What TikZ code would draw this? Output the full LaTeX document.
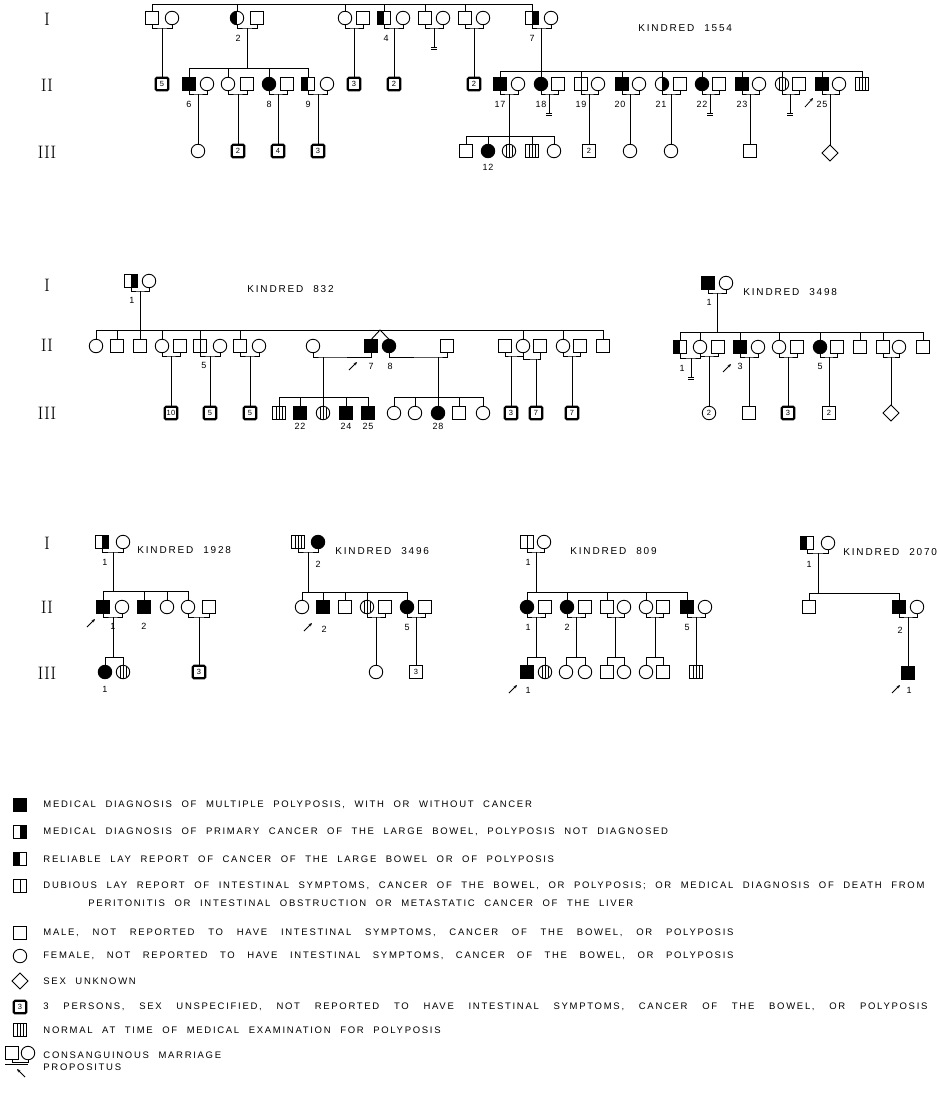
\documentclass[tikz,border=0pt]{standalone}
\usepackage{fontspec}
\usetikzlibrary{shapes.geometric,arrows.meta}
\newfontfamily\ltf[LetterSpace=18,WordSpace=2.2]{Liberation Sans}
\newfontfamily\numf[LetterSpace=6]{Liberation Sans}
\newcommand\mU[3]{\draw (#1.south) |- (#3) -| (#2.south);}
\newcommand\noff[3]{\draw (#1) -- ++(0,#3) coordinate (#2); \draw ([xshift=-3pt]#2) -- ([xshift=3pt]#2); \draw ([xshift=-3pt,yshift=-2.5pt]#2) -- ([xshift=3pt,yshift=-2.5pt]#2);}
\begin{document}
\begin{tikzpicture}[x=1pt,y=-1pt,line width=0.9pt,
  sym/.style={draw,line width=0.9pt,inner sep=0pt,outer sep=0pt},
  sq/.style={sym,rectangle,minimum size=12.5pt},
  ci/.style={sym,circle,minimum size=13.5pt},
  dm/.style={sym,diamond,minimum size=16pt},
  aff/.style={fill=black},
  lh/.style={path picture={\fill[black] (path picture bounding box.south west) rectangle (path picture bounding box.north);}},
  rh/.style={path picture={\fill[black] (path picture bounding box.south) rectangle (path picture bounding box.north east);}},
  dub/.style={path picture={\draw[line width=0.9pt] (path picture bounding box.south) -- (path picture bounding box.north);}},
  stri/.style={path picture={\foreach \s in {-3,0,3}{\draw[line width=0.7pt] ([xshift=\s pt]path picture bounding box.south) -- ([xshift=\s pt]path picture bounding box.north);}}},
  grp/.style={sq,line width=2.2pt,rounded corners=1.3pt,font=\numf\fontsize{7.5}{7.5}\selectfont},
  nsq/.style={sq,font=\numf\fontsize{7.5}{7.5}\selectfont},
  nci/.style={ci,font=\numf\fontsize{7.5}{7.5}\selectfont},
  lab/.style={font=\numf\fontsize{9}{9}\selectfont,inner sep=0pt},
  gen/.style={font=\fontsize{18}{18}\selectfont,inner sep=0pt},
  kin/.style={font=\ltf\fontsize{10}{10}\selectfont,anchor=west,inner sep=0pt},
  leg/.style={font=\ltf\fontsize{9.5}{9.5}\selectfont,anchor=west,inner sep=0pt},
  prop/.style={-{Stealth[length=3.5pt,width=3pt]},line width=0.8pt}]
\useasboundingbox (0,0) rectangle (937,1098);
\fill[white] (0,0) rectangle (937,1098);

%%%%%%%%%%%%%%%% KINDRED 1554
\node[gen] (ga1) at (47,19) {I};
\node[gen] (ga2) at (47,85) {II};
\node[gen] (ga3) at (47,152) {III};
\node[kin] (kn1) at (638,28) {KINDRED 1554};
\coordinate (t0) at (152,4); \coordinate (t1) at (532,4);
\draw (t0) -- (t1);
\node[sq] (a1) at (152,18) {}; \node[ci] (a2) at (172,18) {};
\node[ci,lh] (b1) at (237,18) {}; \node[sq] (b2) at (257,18) {};
\node[ci] (c1) at (345,18) {}; \node[sq] (c2) at (363,18) {};
\node[sq,lh] (d1) at (384,18) {}; \node[ci] (d2) at (403,18) {};
\node[sq] (e1) at (425,18) {}; \node[ci] (e2) at (443,18) {};
\node[sq] (f1) at (465,18) {}; \node[ci] (f2) at (483,18) {};
\node[sq,rh] (g1) at (532,18) {}; \node[ci] (g2) at (551,18) {};
\foreach \n in {a1,b1,c1,d1,e1,f1,g1} \draw (\n.north) -- (\n.north |- t0);
\coordinate (ma) at (162,28); \mU{a1}{a2}{ma}
\coordinate (mb) at (247,28); \mU{b1}{b2}{mb}
\coordinate (mc) at (354,28); \mU{c1}{c2}{mc}
\coordinate (md) at (394,28); \mU{d1}{d2}{md}
\coordinate (me) at (434,28); \mU{e1}{e2}{me}
\coordinate (mf) at (474,28); \mU{f1}{f2}{mf}
\coordinate (mg) at (541,28); \mU{g1}{g2}{mg}
\node[lab] (lb2) at (238,38) {2};
\node[lab] (ld4) at (386,38) {4};
\node[lab] (lg7) at (532,38) {7};
\node[grp] (a3) at (162,84) {5}; \draw (ma) -- (a3.north);
\node[grp] (c3) at (354,84) {3}; \draw (mc) -- (c3.north);
\node[grp] (d3) at (394,84) {2}; \draw (md) -- (d3.north);
\noff{me}{ne}{19}
\node[grp] (f3) at (474,84) {2}; \draw (mf) -- (f3.north);
% family of 2
\coordinate (sb0) at (189,68); \coordinate (sb1) at (308,68);
\draw (sb0) -- (sb1); \draw (mb) -- (mb |- sb0);
\node[sq,aff] (h1) at (189,84) {}; \node[ci] (h2) at (207,84) {};
\node[ci] (i1) at (228,84) {}; \node[sq] (i2) at (247,84) {};
\node[ci,aff] (j1) at (269,84) {}; \node[sq] (j2) at (287,84) {};
\node[sq,lh] (k1) at (308,84) {}; \node[ci] (k2) at (327,84) {};
\foreach \n in {h1,i1,j1,k1} \draw (\n.north) -- (\n.north |- sb0);
\coordinate (mh) at (198,94); \mU{h1}{h2}{mh}
\coordinate (mi) at (238,94); \mU{i1}{i2}{mi}
\coordinate (mj) at (278,94); \mU{j1}{j2}{mj}
\coordinate (mk) at (318,94); \mU{k1}{k2}{mk}
\node[lab] (lh6) at (189,104) {6};
\node[lab] (lj8) at (269,104) {8};
\node[lab] (lk9) at (308,104) {9};
\node[ci] (h3) at (198,151) {}; \draw (mh) -- (h3.north);
\node[grp] (i3) at (238,151) {2}; \draw (mi) -- (i3.north);
\node[grp] (j3) at (278,151) {4}; \draw (mj) -- (j3.north);
\node[grp] (k3) at (318,151) {3}; \draw (mk) -- (k3.north);
% family of 7
\coordinate (sg0) at (500,71); \coordinate (sg1) at (862,71);
\draw (sg0) -- (sg1); \draw (mg) -- (mg |- sg0);
\node[sq,aff] (n17) at (500,84) {}; \node[ci] (n17s) at (518,84) {};
\node[ci,aff] (n18) at (541,84) {}; \node[sq] (n18s) at (558,84) {};
\node[sq,dub] (n19) at (581,84) {}; \node[ci] (n19s) at (598,84) {};
\node[sq,aff] (n20) at (622,84) {}; \node[ci] (n20s) at (639,84) {};
\node[ci,rh] (n21) at (662,84) {}; \node[sq] (n21s) at (680,84) {};
\node[ci,aff] (n22) at (702,84) {}; \node[sq] (n22s) at (719,84) {};
\node[sq,aff] (n23) at (742,84) {}; \node[ci] (n23s) at (759,84) {};
\node[ci,stri] (n24) at (782,84) {}; \node[sq] (n24s) at (799,84) {};
\node[sq,aff] (n25) at (822,84) {}; \node[ci] (n25s) at (839,84) {};
\node[sq,stri] (n26) at (862,84) {};
\foreach \n in {n17,n18,n19,n20,n21,n22,n23,n24,n25,n26} \draw (\n.north) -- (\n.north |- sg0);
\coordinate (m17) at (509,94); \mU{n17}{n17s}{m17}
\coordinate (m18) at (549,94); \mU{n18}{n18s}{m18}
\coordinate (m19) at (589,94); \mU{n19}{n19s}{m19}
\coordinate (m20) at (630,94); \mU{n20}{n20s}{m20}
\coordinate (m21) at (671,94); \mU{n21}{n21s}{m21}
\coordinate (m22) at (710,94); \mU{n22}{n22s}{m22}
\coordinate (m23) at (750,94); \mU{n23}{n23s}{m23}
\coordinate (m24) at (790,94); \mU{n24}{n24s}{m24}
\coordinate (m25) at (830,94); \mU{n25}{n25s}{m25}
\node[lab] (l17) at (500,104) {17};
\node[lab] (l18) at (541,104) {18};
\node[lab] (l19) at (581,104) {19};
\node[lab] (l20) at (620,104) {20};
\node[lab] (l21) at (661,104) {21};
\node[lab] (l22) at (702,104) {22};
\node[lab] (l23) at (742,104) {23};
\node[lab] (l25) at (822,104) {25};
\draw[prop] (805,107) -- (813,98);
\coordinate (so0) at (466,136); \coordinate (so1) at (554,136);
\draw (so0) -- (so1); \draw (m17) -- (m17 |- so0);
\node[sq] (o1) at (466,151) {};
\node[ci,aff] (o2) at (488,151) {};
\node[ci,stri] (o3) at (509,151) {};
\node[sq,stri] (o4) at (532,151) {};
\node[ci] (o5) at (554,151) {};
\foreach \n in {o1,o2,o3,o4,o5} \draw (\n.north) -- (\n.north |- so0);
\node[lab] (l12) at (488,167) {12};
\noff{m18}{n18e}{19}
\node[nsq] (p19) at (589,151) {2}; \draw (m19) -- (p19.north);
\node[ci] (p20) at (630,151) {}; \draw (m20) -- (p20.north);
\node[ci] (p21) at (671,151) {}; \draw (m21) -- (p21.north);
\noff{m22}{n22e}{19}
\node[sq] (p23) at (750,151) {}; \draw (m23) -- (p23.north);
\noff{m24}{n24e}{19}
\node[dm] (p25) at (830,153) {}; \draw (m25) -- (p25.north);

%%%%%%%%%%%%%%%% KINDRED 832
\node[gen] (gb1) at (47,285) {I};
\node[gen] (gb2) at (47,345) {II};
\node[gen] (gb3) at (47,413) {III};
\node[kin] (kn2) at (247,289) {KINDRED 832};
\node[sq,rh] (P1) at (131,281) {}; \node[ci] (P2) at (149,281) {};
\coordinate (mP) at (140,291); \mU{P1}{P2}{mP}
\node[lab] (lP1) at (132,300) {1};
\coordinate (sP0) at (96,330); \coordinate (sP1) at (603,330);
\draw (sP0) -- (sP1); \draw (mP) -- (mP |- sP0);
\node[ci] (q1) at (96,346) {};
\node[sq] (q2) at (117,346) {};
\node[sq] (q3) at (140,346) {};
\node[ci] (q4) at (162,346) {}; \node[sq] (q4s) at (180,346) {};
\node[sq,dub] (q5) at (200,346) {}; \node[ci] (q5s) at (220,346) {};
\node[sq] (q6) at (240,346) {}; \node[ci] (q6s) at (259,346) {};
\node[ci] (q7s) at (313,346) {};
\node[sq,aff] (q7) at (371,346) {};
\node[ci,aff] (q8) at (389,346) {};
\node[sq] (q8s) at (447,346) {};
\node[sq] (q9s) at (505,346) {};
\node[ci] (q10) at (523,346) {};
\node[sq] (q11s) at (540,346) {};
\node[ci] (q12) at (563,346) {}; \node[sq] (q13s) at (580,346) {};
\node[sq] (q14) at (603,346) {};
\foreach \n in {q1,q2,q3,q4,q5,q6,q10,q12,q14} \draw (\n.north) -- (\n.north |- sP0);
\coordinate (tw) at (380,330); \draw (q7.north) -- (tw) -- (q8.north);
\coordinate (m4) at (171,356); \mU{q4}{q4s}{m4}
\coordinate (m5) at (210,356); \mU{q5}{q5s}{m5}
\coordinate (m6) at (250,356); \mU{q6}{q6s}{m6}
\coordinate (m7) at (323,357); \mU{q7s}{q7}{m7}
\coordinate (m8) at (438,357); \mU{q8}{q8s}{m8}
\coordinate (m9) at (511,356); \mU{q9s}{q10}{m9}
\coordinate (m10) at (536,359); \mU{q10}{q11s}{m10}
\coordinate (m12) at (572,356); \mU{q12}{q13s}{m12}
\node[lab] (lq5) at (204,365) {5};
\node[lab] (lq7) at (371,366) {7};
\node[lab] (lq8) at (390,366) {8};
\draw[prop] (349,370) -- (357,362);
\node[grp] (r4) at (171,413) {10}; \draw (m4) -- (r4.north);
\node[grp] (r5) at (210,413) {5}; \draw (m5) -- (r5.north);
\node[grp] (r6) at (250,413) {5}; \draw (m6) -- (r6.north);
\coordinate (sr0) at (279,397); \coordinate (sr1) at (368,397);
\draw (sr0) -- (sr1); \draw (m7) -- (m7 |- sr0);
\node[sq,stri] (s1) at (279,413) {};
\node[sq,aff] (s2) at (300,413) {};
\node[ci,stri] (s3) at (323,413) {};
\node[sq,aff] (s4) at (346,413) {};
\node[sq,aff] (s5) at (368,413) {};
\foreach \n in {s1,s2,s3,s4,s5} \draw (\n.north) -- (\n.north |- sr0);
\node[lab] (l22b) at (300,426) {22};
\node[lab] (l24b) at (346,426) {24};
\node[lab] (l25b) at (368,426) {25};
\coordinate (su0) at (394,397); \coordinate (su1) at (483,397);
\draw (su0) -- (su1); \draw (m8) -- (m8 |- su0);
\node[ci] (u1) at (394,413) {};
\node[ci] (u2) at (415,413) {};
\node[ci,aff] (u3) at (438,413) {};
\node[sq] (u4) at (459,413) {};
\node[ci] (u5) at (483,413) {};
\foreach \n in {u1,u2,u3,u4,u5} \draw (\n.north) -- (\n.north |- su0);
\node[lab] (l28) at (438,426) {28};
\node[grp] (r9) at (511,413) {3}; \draw (m9) -- (r9.north);
\node[grp] (r10) at (536,413) {7}; \draw (m10) -- (r10.north);
\node[grp] (r12) at (572,413) {7}; \draw (m12) -- (r12.north);

%%%%%%%%%%%%%%%% KINDRED 3498
\node[kin] (kn3) at (743,292) {KINDRED 3498};
\node[sq,aff] (T1) at (708,283) {}; \node[ci] (T2) at (726,283) {};
\coordinate (mT) at (717,293); \mU{T1}{T2}{mT}
\node[lab] (lT1) at (709,302) {1};
\coordinate (sT0) at (680,332); \coordinate (sT1) at (923,332);
\draw (sT0) -- (sT1); \draw (mT) -- (mT |- sT0);
\node[sq,lh] (U1) at (680,347) {};
\node[ci] (U2) at (700,347) {};
\node[sq] (U3) at (718,347) {};
\node[sq,aff] (U4) at (740,347) {}; \node[ci] (U5) at (758,347) {};
\node[ci] (U6) at (779,347) {}; \node[sq] (U7) at (797,347) {};
\node[ci,aff] (U8) at (820,347) {}; \node[sq] (U9) at (837,347) {};
\node[sq] (U10) at (860,347) {};
\node[sq] (U11) at (883,347) {}; \node[ci] (U12) at (899,347) {};
\node[sq] (U13) at (923,347) {};
\foreach \n in {U1,U2,U4,U6,U8,U10,U11,U13} \draw (\n.north) -- (\n.north |- sT0);
\coordinate (mU1) at (691,358); \mU{U1}{U2}{mU1}
\coordinate (mU2) at (709,356); \mU{U2}{U3}{mU2}
\coordinate (mU4) at (749,357); \mU{U4}{U5}{mU4}
\coordinate (mU6) at (788,357); \mU{U6}{U7}{mU6}
\coordinate (mU8) at (829,357); \mU{U8}{U9}{mU8}
\coordinate (mU11) at (891,357); \mU{U11}{U12}{mU11}
\noff{mU1}{nU1}{19}
\node[lab] (lU1) at (682,368) {1};
\node[lab] (lU4) at (740,366) {3};
\node[lab] (lU8) at (820,366) {5};
\draw[prop] (723,372) -- (731,364);
\node[nci] (V2) at (709,413) {2}; \draw (mU2) -- (V2.north);
\node[sq] (V4) at (749,413) {}; \draw (mU4) -- (V4.north);
\node[grp] (V6) at (788,413) {3}; \draw (mU6) -- (V6.north);
\node[nsq] (V8) at (829,413) {2}; \draw (mU8) -- (V8.north);
\node[dm] (V11) at (891,413) {}; \draw (mU11) -- (V11.north);

%%%%%%%%%%%%%%%% KINDRED 1928
\node[gen] (gc1) at (47,543) {I};
\node[gen] (gc2) at (47,607) {II};
\node[gen] (gc3) at (47,673) {III};
\node[kin] (kn4) at (137,550) {KINDRED 1928};
\node[sq,rh] (v1) at (102,542) {}; \node[ci] (v2) at (123,542) {};
\coordinate (mv) at (113,552); \mU{v1}{v2}{mv}
\node[lab] (lv1) at (105,562) {1};
\coordinate (sv0) at (103,591); \coordinate (sv1) at (188,591);
\draw (sv0) -- (sv1); \draw (mv) -- (mv |- sv0);
\node[sq,aff] (w1) at (103,607) {}; \node[ci] (w2) at (122,607) {};
\node[sq,aff] (w3) at (144,607) {};
\node[ci] (w4) at (167,607) {};
\node[ci] (w5) at (188,607) {}; \node[sq] (w6) at (209,607) {};
\foreach \n in {w1,w3,w4,w5} \draw (\n.north) -- (\n.north |- sv0);
\coordinate (mw1) at (113,617); \mU{w1}{w2}{mw1}
\coordinate (mw5) at (199,617); \mU{w5}{w6}{mw5}
\node[lab] (lw1) at (113,626) {1};
\node[lab] (lw3) at (144,626) {2};
\draw[prop] (87,627) -- (95,619);
\coordinate (sw0) at (105,657); \coordinate (sw1) at (123,657);
\draw (sw0) -- (sw1); \draw (mw1) -- (mw1 |- sw0);
\node[ci,aff] (x1) at (105,672) {}; \node[ci,stri] (x2) at (123,672) {};
\foreach \n in {x1,x2} \draw (\n.north) -- (\n.north |- sw0);
\node[lab] (lx1) at (105,689) {1};
\node[grp] (x5) at (199,672) {3}; \draw (mw5) -- (x5.north);

%%%%%%%%%%%%%%%% KINDRED 3496
\node[kin] (kn5) at (335,551) {KINDRED 3496};
\node[sq,stri] (X1) at (298,542) {}; \node[ci,aff] (X2) at (318,542) {};
\coordinate (mX) at (308,552); \mU{X1}{X2}{mX}
\node[lab] (lX2) at (318,564) {2};
\coordinate (sX0) at (302,592); \coordinate (sX1) at (407,592);
\draw (sX0) -- (sX1); \draw (mX) -- (mX |- sX0);
\node[ci] (Y1) at (302,607) {};
\node[sq,aff] (Y2) at (323,607) {};
\node[sq] (Y3) at (345,607) {};
\node[ci,stri] (Y4) at (367,607) {}; \node[sq] (Y5) at (385,607) {};
\node[ci,aff] (Y6) at (407,607) {}; \node[sq] (Y7) at (425,607) {};
\foreach \n in {Y1,Y2,Y3,Y4,Y6} \draw (\n.north) -- (\n.north |- sX0);
\coordinate (mY4) at (376,617); \mU{Y4}{Y5}{mY4}
\coordinate (mY6) at (416,617); \mU{Y6}{Y7}{mY6}
\node[lab] (lY2) at (324,629) {2};
\node[lab] (lY6) at (407,627) {5};
\draw[prop] (304,631) -- (312,623);
\node[ci] (Z4) at (376,672) {}; \draw (mY4) -- (Z4.north);
\node[nsq] (Z6) at (416,672) {3}; \draw (mY6) -- (Z6.north);

%%%%%%%%%%%%%%%% KINDRED 809
\node[kin] (kn6) at (570,551) {KINDRED 809};
\node[sq,dub] (A1) at (527,542) {}; \node[ci] (A2) at (544,542) {};
\coordinate (mA) at (536,552); \mU{A1}{A2}{mA}
\node[lab] (lA1) at (528,562) {1};
\coordinate (sA0) at (527,592); \coordinate (sA1) at (687,592);
\draw (sA0) -- (sA1); \draw (mA) -- (mA |- sA0);
\node[ci,aff] (B1) at (527,607) {}; \node[sq] (B2) at (545,607) {};
\node[ci,aff] (B3) at (567,607) {}; \node[sq] (B4) at (585,607) {};
\node[sq] (B5) at (607,607) {}; \node[ci] (B6) at (624,607) {};
\node[ci] (B7) at (646,607) {}; \node[sq] (B8) at (663,607) {};
\node[sq,aff] (B9) at (687,607) {}; \node[ci] (B10) at (705,607) {};
\foreach \n in {B1,B3,B5,B7,B9} \draw (\n.north) -- (\n.north |- sA0);
\coordinate (mB1) at (536,617); \mU{B1}{B2}{mB1}
\coordinate (mB3) at (576,617); \mU{B3}{B4}{mB3}
\coordinate (mB5) at (615,617); \mU{B5}{B6}{mB5}
\coordinate (mB7) at (655,617); \mU{B7}{B8}{mB7}
\coordinate (mB9) at (696,617); \mU{B9}{B10}{mB9}
\node[lab] (lB1) at (528,627) {1};
\node[lab] (lB3) at (567,627) {2};
\node[lab] (lB9) at (687,627) {5};
\coordinate (sB10) at (527,657); \coordinate (sB11) at (545,657);
\draw (sB10) -- (sB11); \draw (mB1) -- (mB1 |- sB10);
\node[sq,aff] (C1) at (527,672) {}; \node[ci,stri] (C2) at (545,672) {};
\coordinate (sB30) at (566,657); \coordinate (sB31) at (585,657);
\draw (sB30) -- (sB31); \draw (mB3) -- (mB3 |- sB30);
\node[ci] (C3) at (566,672) {}; \node[ci] (C4) at (585,672) {};
\coordinate (sB50) at (607,657); \coordinate (sB51) at (624,657);
\draw (sB50) -- (sB51); \draw (mB5) -- (mB5 |- sB50);
\node[sq] (C5) at (607,672) {}; \node[ci] (C6) at (624,672) {};
\coordinate (sB70) at (646,657); \coordinate (sB71) at (663,657);
\draw (sB70) -- (sB71); \draw (mB7) -- (mB7 |- sB70);
\node[ci] (C7) at (646,672) {}; \node[sq] (C8) at (663,672) {};
\foreach \n/\s in {C1/sB10,C2/sB10,C3/sB30,C4/sB30,C5/sB50,C6/sB50,C7/sB70,C8/sB70} \draw (\n.north) -- (\n.north |- \s);
\node[sq,stri] (C9) at (696,672) {}; \draw (mB9) -- (C9.north);
\node[lab] (lC1) at (528,690) {1};
\draw[prop] (509,693) -- (517,685);

%%%%%%%%%%%%%%%% KINDRED 2070
\node[kin] (kn7) at (843,552) {KINDRED 2070};
\node[sq,lh] (D1) at (807,543) {}; \node[ci] (D2) at (828,543) {};
\coordinate (mD) at (818,553); \mU{D1}{D2}{mD}
\node[lab] (lD1) at (809,564) {1};
\coordinate (sD0) at (809,593); \coordinate (sD1) at (899,593);
\draw (sD0) -- (sD1); \draw (mD) -- (mD |- sD0);
\node[sq] (E1) at (809,607) {};
\node[sq,aff] (E2) at (899,607) {}; \node[ci] (E3) at (917,607) {};
\foreach \n in {E1,E2} \draw (\n.north) -- (\n.north |- sD0);
\coordinate (mE) at (908,617); \mU{E2}{E3}{mE}
\node[lab] (lE2) at (900,630) {2};
\node[sq,aff] (F1) at (908,673) {}; \draw (mE) -- (F1.north);
\node[lab] (lF1) at (909,690) {1};
\draw[prop] (892,693) -- (900,685);

%%%%%%%%%%%%%%%% LEGEND
\node[sq,aff] (L1) at (20,805) {};
\node[leg] (T1L) at (43,805) {MEDICAL DIAGNOSIS OF MULTIPLE POLYPOSIS,  WITH OR WITHOUT CANCER};
\node[sq,rh] (L2) at (20,832) {};
\node[leg] (T2L) at (43,832) {MEDICAL DIAGNOSIS OF PRIMARY CANCER OF THE LARGE BOWEL, POLYPOSIS NOT DIAGNOSED};
\node[sq,lh] (L3) at (20,859) {};
\node[leg] (T3L) at (43,859) {RELIABLE LAY REPORT OF CANCER OF THE LARGE BOWEL OR OF POLYPOSIS};
\node[sq,dub] (L4) at (20,886) {};
\node[leg] (T4L) at (43,886) {DUBIOUS LAY REPORT OF INTESTINAL SYMPTOMS, CANCER OF THE BOWEL, OR POLYPOSIS; OR MEDICAL DIAGNOSIS OF DEATH FROM};
\node[leg] (T4M) at (88,903) {PERITONITIS OR INTESTINAL OBSTRUCTION OR METASTATIC CANCER OF THE LIVER};
\node[sq] (L5) at (20,933) {};
\node[leg] (T5L) at (43,933) {\makebox[690pt][s]{MALE, NOT REPORTED TO HAVE INTESTINAL SYMPTOMS, CANCER OF THE BOWEL, OR POLYPOSIS}};
\node[ci] (L6) at (20,956) {};
\node[leg] (T6L) at (43,956) {\makebox[690pt][s]{FEMALE, NOT REPORTED TO HAVE INTESTINAL SYMPTOMS, CANCER OF THE BOWEL, OR POLYPOSIS}};
\node[dm] (L7) at (20,981) {};
\node[leg] (T7L) at (43,981) {SEX UNKNOWN};
\node[grp] (L8) at (20,1007) {3};
\node[leg] (T8L) at (43,1007) {\makebox[884pt][s]{3 PERSONS, SEX UNSPECIFIED, NOT REPORTED TO HAVE INTESTINAL SYMPTOMS, CANCER OF THE BOWEL,  OR POLYPOSIS}};
\node[sq,stri] (L9) at (20,1030) {};
\node[leg] (T9L) at (43,1030) {NORMAL AT TIME OF MEDICAL EXAMINATION FOR POLYPOSIS};
\node[sq] (L10a) at (12,1053) {}; \node[ci] (L10b) at (28,1053) {};
\coordinate (mL) at (20,1062); \mU{L10a}{L10b}{mL}
\draw (5,1064.5) -- (28,1064.5);
\node[leg] (T10L) at (43,1055) {CONSANGUINOUS MARRIAGE};
\draw[prop] (25,1077) -- (17,1069);
\node[leg] (T11L) at (43,1067) {PROPOSITUS};
\end{tikzpicture}
\end{document}
